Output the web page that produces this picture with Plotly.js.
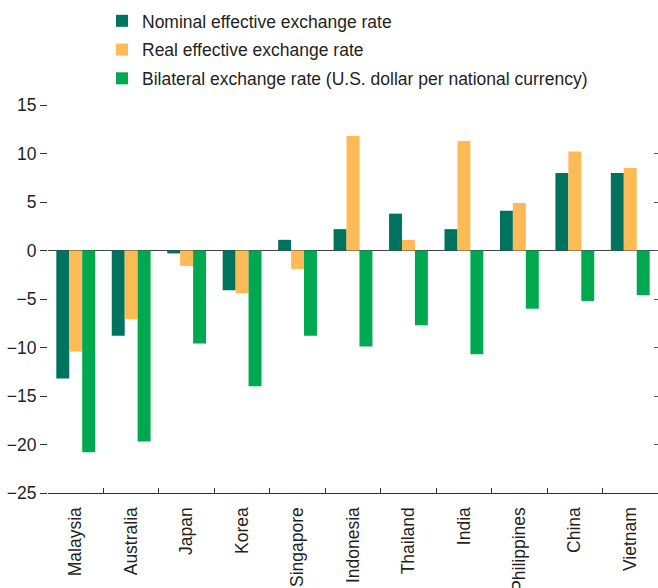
<!DOCTYPE html>
<html>
<head>
<meta charset="utf-8">
<script src="https://cdn.plot.ly/plotly-3.0.1.min.js"></script>
<style>html,body{margin:0;padding:0;background:#fff;}</style>
</head>
<body>
<div id="chart" style="width:658px;height:588px;"></div>
<script>
const countries = ["Malaysia","Australia","Japan","Korea","Singapore","Indonesia","Thailand","India","Philippines","China","Vietnam"];
const nominalEER = [-13.2,-8.8,-0.3,-4.1,1.1,2.2,3.8,2.2,4.1,8.0,8.0];
const realEER = [-10.4,-7.1,-1.6,-4.4,-1.9,11.8,1.1,11.3,4.9,10.2,8.5];
const bilateral = [-20.8,-19.7,-9.6,-14.0,-8.8,-9.9,-7.7,-10.7,-6.0,-5.2,-4.6];
const seriesNames = ["Nominal effective exchange rate","Real effective exchange rate","Bilateral exchange rate (U.S. dollar per national currency)"];
const colors = ["#00735F","#FDBA55","#00A84F"];
const yTickVals = [-25,-20,-15,-10,-5,0,5,10,15];

const FONT = "Liberation Sans, Arial, sans-serif";
const TXT = "#231F20";

const data = [nominalEER, realEER, bilateral].map((vals, i) => ({
  type: "bar",
  x: countries,
  y: vals,
  name: seriesNames[i],
  legendgroup: "g" + i,
  marker: {color: colors[i], line: {width: 0}},
  hoverinfo: "x+y+name"
}));

// empty helper trace so that the mirrored right-hand tick axis is drawn
data.push({
  type: "scatter",
  mode: "markers",
  x: [],
  y: [],
  yaxis: "y2",
  showlegend: false,
  hoverinfo: "skip"
});

const layout = {
  width: 658,
  height: 588,
  margin: {l: 48, r: 0, t: 105, b: 95, pad: 0, autoexpand: false},
  paper_bgcolor: "#fff",
  plot_bgcolor: "#fff",
  font: {family: FONT, size: 17.5, color: TXT},
  barmode: "group",
  bargap: 0.3,
  bargroupgap: 0,
  showlegend: true,
  legend: {
    xref: "container", yref: "container",
    x: 0.155, y: 0.995, xanchor: "left", yanchor: "top",
    bgcolor: "rgba(0,0,0,0)", borderwidth: 0,
    font: {family: FONT, size: 17.5, color: TXT},
    tracegroupgap: 3,
    traceorder: "grouped"
  },
  xaxis: {
    type: "category",
    tickson: "boundaries",
    ticks: "inside",
    ticklen: 5,
    tickcolor: "#333",
    tickwidth: 1,
    showline: true,
    linecolor: "#333",
    linewidth: 1.2,
    tickangle: -90,
    ticklabelstandoff: 6,
    tickfont: {family: FONT, size: 17.5, color: TXT},
    showgrid: false,
    zeroline: false,
    fixedrange: true
  },
  yaxis: {
    range: [-25, 15],
    tickvals: yTickVals,
    ticks: "outside",
    ticklen: 7,
    tickcolor: "#333",
    tickwidth: 1,
    showline: false,
    showgrid: false,
    zeroline: true,
    zerolinecolor: "#444",
    zerolinewidth: 1.5,
    tickfont: {family: FONT, size: 17.5, color: TXT},
    fixedrange: true
  },
  yaxis2: {
    overlaying: "y",
    side: "right",
    anchor: "x",
    range: [-25, 15],
    tickvals: yTickVals,
    ticks: "inside",
    ticklen: 4,
    tickcolor: "#555",
    showticklabels: false,
    showgrid: false,
    zeroline: false,
    showline: false,
    fixedrange: true
  }
};

Plotly.newPlot("chart", data, layout, {displayModeBar: false, staticPlot: true});
</script>
</body>
</html>
